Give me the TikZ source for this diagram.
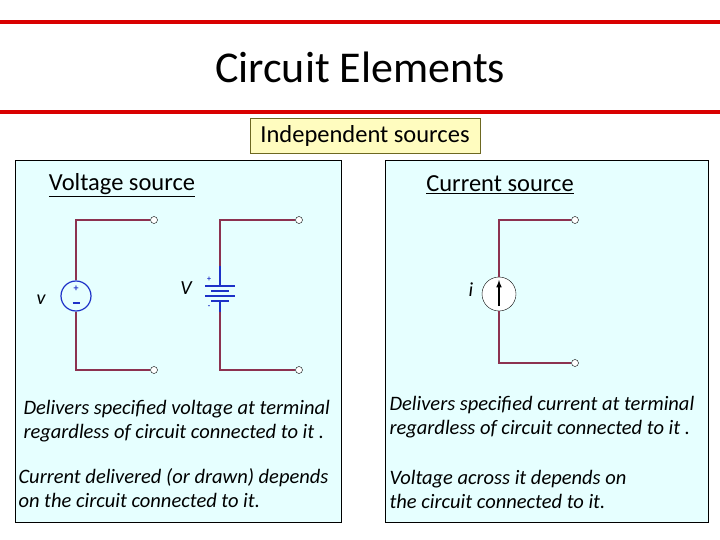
\documentclass[tikz,border=0pt]{standalone}
\usepackage{fontspec}
\setmainfont{Carlito}
\begin{document}
\begin{tikzpicture}[x=1pt,y=-1pt,
 wire/.style={draw=wirec,line width=1.3pt},
 term/.style={circle,draw=black,fill=white,inner sep=0pt,minimum size=7pt},
 body/.style={font=\fontsize{20.5}{24}\selectfont\itshape,align=left,anchor=west},
 head/.style={font=\fontsize{24.5}{28}\selectfont}]
\definecolor{wirec}{RGB}{140,50,80}
\definecolor{panel}{RGB}{230,255,255}
\definecolor{srcblue}{RGB}{30,50,200}
\useasboundingbox (0,0) rectangle (720,540);
\fill[white] (0,0) rectangle (720,540);
\draw[red!85!black,line width=4pt] (0,22) -- (720,22);
\draw[red!85!black,line width=4pt] (0,112) -- (720,112);
\node[font=\fontsize{44}{50}\selectfont] (title) at (360,67) {Circuit Elements};
\node[draw=olive!70!black,fill=yellow!25,line width=1pt,minimum width=230pt,minimum height=35pt,inner sep=0pt,head] (ind) at (365,136) {Independent sources};
\node[draw=black,fill=panel,minimum width=326pt,minimum height=362pt,inner sep=0pt] (lp) at (178,341) {};
\node[draw=black,fill=panel,minimum width=323pt,minimum height=362pt,inner sep=0pt] (rp) at (546.5,341) {};
\node[head] (vh) at (122,185) {\underline{Voltage source}};
\node[head] (ch) at (500,185) {\underline{Current source}};
% circuit 1
\node[term] (t1) at (154,220) {};
\node[term] (t2) at (154,370) {};
\node[circle,draw=srcblue,line width=1.2pt,minimum size=30pt,inner sep=0pt] (vs) at (76,296) {};
\node[srcblue,font=\bfseries] at (76,289) {+};
\draw[srcblue,line width=1.2pt] (72.5,303) -- (79.5,303);
\coordinate (c1a) at (76,220); \coordinate (c1b) at (76,370);
\draw[wire] (vs.north) -- (c1a) -- (t1.west);
\draw[wire] (vs.south) -- (c1b) -- (t2.west);
\node[font=\fontsize{20}{22}\selectfont\itshape] (lv) at (41,300) {v};
% circuit 2
\node[term] (t3) at (299,220) {};
\node[term] (t4) at (299,370) {};
\coordinate (bt) at (220,266); \coordinate (bb) at (220,312);
\coordinate (c2a) at (220,220); \coordinate (c2b) at (220,370);
\draw[wire] (bt) -- (c2a) -- (t3.west);
\draw[wire] (bb) -- (c2b) -- (t4.west);
\begin{scope}[srcblue,line width=1.2pt]
\draw (220,266) -- (220,286);
\draw (205,286) -- (235,286);
\draw (211,291) -- (229,291);
\draw (205,296) -- (235,296);
\draw (211,301) -- (229,301);
\draw (220,301) -- (220,312);
\end{scope}
\node[srcblue,font=\footnotesize\bfseries] at (209,279) {+};
\node[srcblue,font=\footnotesize\bfseries] at (209,307) {-};
\node[font=\fontsize{20}{22}\selectfont\itshape] (lV) at (186,288) {V};
% current source
\node[term] (t5) at (575,220) {};
\node[term] (t6) at (575,363) {};
\node[circle,draw=black,fill=white,minimum size=34pt,inner sep=0pt] (cs) at (499,294) {};
\draw[-latex,line width=1.5pt] (499,306) -- (499,280);
\coordinate (c3a) at (499,220); \coordinate (c3b) at (499,363);
\draw[wire] (cs.north) -- (c3a) -- (t5.west);
\draw[wire] (cs.south) -- (c3b) -- (t6.west);
\node[font=\fontsize{20}{22}\selectfont\itshape] (li) at (471,290) {i};
% texts
\node[body] at (20,421) {Delivers specified voltage at terminal\\regardless of circuit connected to it .};
\node[body] at (15,488) {Current delivered (or drawn) depends\\on the circuit connected to it.};
\node[body] at (386,417) {Delivers specified current at terminal\\regardless of circuit connected to it .};
\node[body] at (386,489) {Voltage across it depends on\\the circuit connected to it.};
\end{tikzpicture}
\end{document}
